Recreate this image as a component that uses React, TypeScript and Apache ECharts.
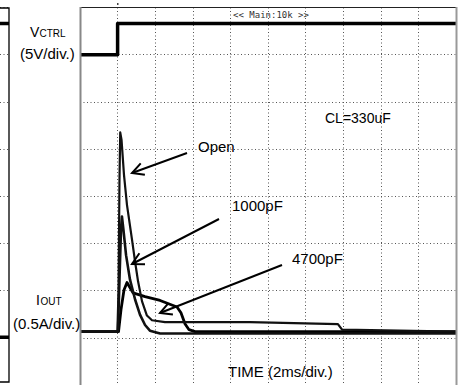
import React, { useEffect, useRef } from "react";
import * as echarts from "echarts";

// Time axis: 2 ms/div, 10 divisions
const TIME_MIN = 0;
const TIME_MAX = 20;
const TIME_STEP = 2;

// VCTRL (V), 5 V/div
const vctrlT = [0, 2.0, 2.0, 20];
const vctrlV = [0, 0, 3.3, 3.3];

// IOUT (A), 0.5 A/div — Open
const openT = [0, 1.99, 2.05, 2.1, 2.14, 2.21, 2.34, 2.5, 2.77, 2.93, 3.09, 3.3, 3.56, 3.83, 4.52, 9.04, 13.72, 13.94, 20];
const openI = [0, 0, 0.44, 1.61, 2.11, 2.03, 1.66, 1.34, 0.97, 0.74, 0.53, 0.32, 0.17, 0.12, 0.1, 0.1, 0.08, 0.02, 0];

// IOUT — 1000pF
const pf1000T = [0, 2.02, 2.1, 2.18, 2.23, 2.31, 2.45, 2.66, 2.93, 3.19, 3.46, 3.72, 4.26, 20];
const pf1000I = [0, 0, 0.55, 1.08, 1.22, 1.08, 0.81, 0.55, 0.34, 0.18, 0.07, 0.01, -0.02, -0.02];

// IOUT — 4700pF
const pf4700T = [0, 2.05, 2.18, 2.34, 2.5, 2.82, 3.46, 4.26, 5.16, 5.37, 5.59, 5.8, 6.12, 20];
const pf4700I = [0, 0, 0.23, 0.44, 0.52, 0.41, 0.37, 0.33, 0.26, 0.2, 0.08, 0.02, 0, 0];

// left strip (part of another capture)
const stripX = [0, 1];
const stripV = [3.3, 3.3];
const stripI = [-0.06, -0.06];

// axis ranges in divisions / units
const DIV_MIN = 0;
const DIV_MAX = 8;
const I_MIN = -0.566;
const I_MAX = 3.434;
const V_MIN = -35;
const V_MAX = 5;

const zip = (a: number[], b: number[]) => a.map((v, i) => [v, b[i]]);

const FONT = '"Liberation Sans", Arial, Helvetica, sans-serif';

function arrow(tail: number[], tip: number[]) {
  const dx = tail[0] - tip[0];
  const dy = tail[1] - tip[1];
  const len = Math.hypot(dx, dy);
  const ux = dx / len;
  const uy = dy / len;
  const a = (28 * Math.PI) / 180;
  const L = 13;
  const w1 = [tip[0] + L * (ux * Math.cos(a) - uy * Math.sin(a)), tip[1] + L * (ux * Math.sin(a) + uy * Math.cos(a))];
  const w2 = [tip[0] + L * (ux * Math.cos(-a) - uy * Math.sin(-a)), tip[1] + L * (ux * Math.sin(-a) + uy * Math.cos(-a))];
  const st = { stroke: "#000", lineWidth: 2, fill: null as any };
  return [
    { type: "line", z: 100, shape: { x1: tail[0], y1: tail[1], x2: tip[0], y2: tip[1] }, style: st },
    { type: "polyline", z: 100, shape: { points: [w1, tip, w2] }, style: st },
  ];
}

function txt(text: string, x: number, y: number, size: number, align = "left", family = FONT, fill = "#000") {
  return {
    type: "text",
    z: 100,
    style: { text, x, y, font: `${size}px ${family}`, fill, textAlign: align, textVerticalAlign: "middle" },
  };
}

export default function App() {
  const ref = useRef<HTMLDivElement>(null);
  useEffect(() => {
    if (!ref.current) return;
    const chart = echarts.init(ref.current, undefined, { renderer: "svg" });
    const dotted = { color: "#555", width: 1, type: [1, 2.5] as any };
    const hiddenAxis = { axisLine: { show: false }, axisTick: { show: false }, axisLabel: { show: false } };
    const trace = (name: string, data: number[][], xi: number, yi: number, width: number, color = "#000") => ({
      name,
      type: "line",
      xAxisIndex: xi,
      yAxisIndex: yi,
      data,
      symbol: "none",
      showSymbol: false,
      lineStyle: { color, width, join: "round" },
      z: 5,
    });
    const option: any = {
      animation: false,
      backgroundColor: "#fff",
      grid: [
        { left: 80, top: 7.5, width: 376, height: 378 },
        { left: 0, top: 7.5, width: 9, height: 378 },
      ],
      xAxis: [
        { gridIndex: 0, type: "value", min: TIME_MIN, max: TIME_MAX, interval: TIME_STEP, ...hiddenAxis, splitLine: { show: true, lineStyle: dotted } },
        { gridIndex: 1, type: "value", min: 0, max: 1, show: false },
      ],
      yAxis: [
        { gridIndex: 0, type: "value", min: DIV_MIN, max: DIV_MAX, interval: 1, ...hiddenAxis, splitLine: { show: true, lineStyle: dotted } },
        { gridIndex: 0, type: "value", min: I_MIN, max: I_MAX, show: false },
        { gridIndex: 0, type: "value", min: V_MIN, max: V_MAX, show: false },
        { gridIndex: 1, type: "value", min: DIV_MIN, max: DIV_MAX, interval: 1, ...hiddenAxis, splitLine: { show: true, lineStyle: dotted } },
        { gridIndex: 1, type: "value", min: I_MIN, max: I_MAX, show: false },
        { gridIndex: 1, type: "value", min: V_MIN, max: V_MAX, show: false },
      ],
      series: [
        trace("VCTRL", zip(vctrlT, vctrlV), 0, 2, 3.5),
        trace("4700pF", zip(pf4700T, pf4700I), 0, 1, 2.8),
        trace("1000pF", zip(pf1000T, pf1000I), 0, 1, 2.6, "#111"),
        trace("Open", zip(openT, openI), 0, 1, 2.2, "#111"),
        trace("stripV", zip(stripX, stripV), 1, 5, 3.5),
        trace("stripI", zip(stripX, stripI), 1, 4, 3.5),
      ],
      graphic: [
        // scope frame
        { type: "line", z: 90, shape: { x1: 80, y1: 7.5, x2: 456, y2: 7.5 }, style: { stroke: "#222", lineWidth: 1.2 } },
        { type: "line", z: 90, shape: { x1: 80.5, y1: 7, x2: 80.5, y2: 385 }, style: { stroke: "#888", lineWidth: 2 } },
        { type: "line", z: 90, shape: { x1: 456.5, y1: 7, x2: 456.5, y2: 385 }, style: { stroke: "#999", lineWidth: 2 } },
        { type: "rect", z: 90, shape: { x: 117, y: 3, width: 1.5, height: 2 }, style: { fill: "#444" } },
        // left strip box
        { type: "rect", z: 90, shape: { x: -5, y: 8, width: 14, height: 374 }, style: { stroke: "#000", lineWidth: 1.3, fill: null } },
        txt("<< Main:10k >>", 271, 15, 9, "center", '"DejaVu Sans Mono", monospace', "#333"),
        // labels
        txt("V", 30, 32, 14),
        txt("CTRL", 39.5, 33.4, 10),
        txt("(5V/div.)", 20, 53, 15),
        txt("I", 36, 300, 14),
        txt("OUT", 40.5, 301.4, 10),
        txt("(0.5A/div.)", 13, 323, 15),
        txt("CL=330uF", 325, 118, 14),
        txt("Open", 198, 146, 15),
        txt("1000pF", 232, 205, 15),
        txt("4700pF", 292, 258, 15),
        txt("TIME (2ms/div.)", 228, 371, 15),
        ...arrow([187, 153], [132, 173]),
        ...arrow([219, 219], [132, 264]),
        ...arrow([282, 265], [160, 313]),
      ],
    };
    chart.setOption(option);
    return () => chart.dispose();
  }, []);
  return (
    <div
      ref={ref}
      style={{ position: "fixed", left: 0, top: 0, width: 462, height: 385, background: "#fff" }}
    />
  );
}
